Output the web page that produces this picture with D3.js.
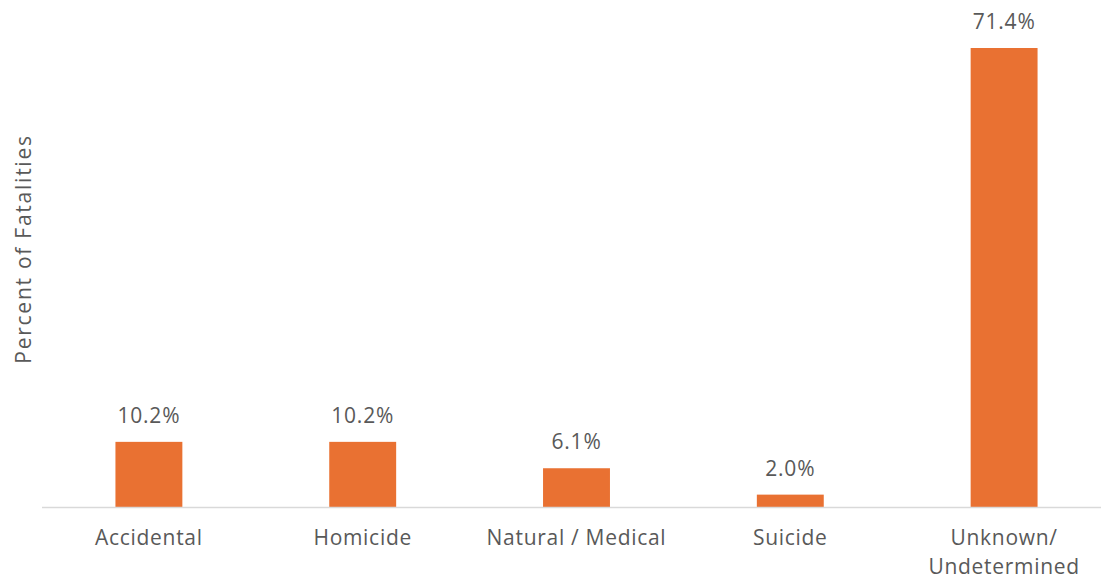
<!DOCTYPE html>
<html><head><meta charset="utf-8">
<script src="https://cdn.jsdelivr.net/npm/d3@7"></script>
<style>body{margin:0;background:#fff}svg{display:block}text{font-family:"Open Sans","Noto Sans",sans-serif;fill:#595959}</style>
</head><body><svg id="c" width="1101" height="578"></svg>
<script>
const categories = ["Accidental", "Homicide", "Natural / Medical", "Suicide", "Unknown/\nUndetermined"];
const values = [10.2, 10.2, 6.1, 2.0, 71.4];
const valueLabels = ["10.2%", "10.2%", "6.1%", "2.0%", "71.4%"];
const yTitle = "Percent of Fatalities";

const svg = d3.select("#c");
const baseY = 507.5;
const x = d3.scaleBand().domain(categories).range([42, 1111]).paddingInner(0.687).paddingOuter(0.3435);
const y = d3.scaleLinear().domain([0, 71.4]).range([baseY, 48]);

svg.selectAll("rect.bar").data(values).enter().append("rect")
  .attr("class","bar")
  .attr("x",(d,i)=>x(categories[i]))
  .attr("width",x.bandwidth())
  .attr("y",d=>y(d))
  .attr("height",d=>baseY-y(d))
  .attr("fill","#E97132");

svg.append("line").attr("x1",42).attr("x2",1101).attr("y1",baseY).attr("y2",baseY)
  .attr("stroke","#d9d9d9").attr("stroke-width",1.5);

svg.selectAll("text.val").data(values).enter().append("text")
  .attr("class","val")
  .attr("x",(d,i)=>x(categories[i])+x.bandwidth()/2)
  .attr("y",d=>y(d)-19)
  .attr("text-anchor","middle").attr("font-size",21).attr("letter-spacing",0.8)
  .text((d,i)=>valueLabels[i]);

const cat = svg.selectAll("text.cat").data(categories).enter().append("text")
  .attr("class","cat")
  .attr("text-anchor","middle").attr("font-size",21).attr("letter-spacing",0.7)
  .attr("transform",d=>`translate(${x(d)+x.bandwidth()/2},545)`);
cat.each(function(d){
  const lines = d.split("\n");
  d3.select(this).selectAll("tspan").data(lines).enter().append("tspan")
    .attr("x",0).attr("y",(l,i)=>i*28.5).text(l=>l);
});

svg.append("text").attr("transform","translate(31,249) rotate(-90)")
  .attr("text-anchor","middle").attr("font-size",21).attr("letter-spacing",1.75).text(yTitle);
</script></body></html>
